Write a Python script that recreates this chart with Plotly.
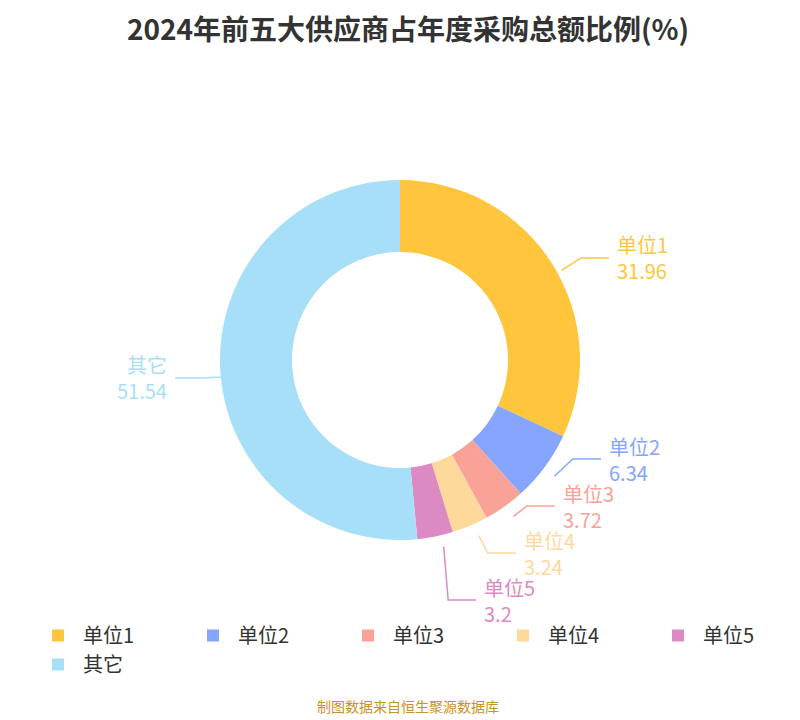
import math
import plotly.graph_objects as go

labels = ["单位1", "单位2", "单位3", "单位4", "单位5", "其它"]
values = [31.96, 6.34, 3.72, 3.24, 3.2, 51.54]
value_text = ["31.96", "6.34", "3.72", "3.24", "3.2", "51.54"]
colors = ["#FFC53D", "#85A5FF", "#FAA298", "#FFD99B", "#DC8AC4", "#A8DFF8"]

W, H = 800, 720
CX, CY, R = 400, 360, 180
FONT = "Noto Sans CJK SC"
DX, DY = -8, -8  # correct plotly's pie placement

fig = go.Figure(go.Pie(
    labels=labels, values=values, hole=0.6, sort=False, direction="clockwise",
    rotation=0, marker=dict(colors=colors), textinfo="none", hoverinfo="label+value",
    domain=dict(x=[(CX - R + DX) / W, (CX + R + DX) / W],
                y=[1 - (CY + R + DY) / H, 1 - (CY - R + DY) / H]),
))

def px(x): return x / W
def py(y): return 1 - y / H

total = sum(values)
cum = 0
items = []
for i, v in enumerate(values):
    a = math.radians((cum + v / 2) / total * 360)
    cum += v
    sx, sy = CX + (R + 2) * math.sin(a), CY - (R + 2) * math.cos(a)
    ex, ey = CX + 205 * math.sin(a), CY - 205 * math.cos(a)
    items.append(dict(i=i, right=math.sin(a) >= 0, sx=sx, sy=sy, ex=ex, ey=ey))

GAP, YMAX = 47, CY + 232
for side in (True, False):
    grp = sorted([it for it in items if it["right"] == side], key=lambda d: d["ey"])
    for k in range(1, len(grp)):
        grp[k]["ey"] = max(grp[k]["ey"], grp[k - 1]["ey"] + GAP)
    if grp and grp[-1]["ey"] > YMAX:
        grp[-1]["ey"] = YMAX
        for k in range(len(grp) - 2, -1, -1):
            grp[k]["ey"] = min(grp[k]["ey"], grp[k + 1]["ey"] - GAP)

shapes, anns = [], []
for it in items:
    c = colors[it["i"]]
    d = 1 if it["right"] else -1
    hx = it["ex"] + d * 28
    shapes.append(dict(type="path", xref="paper", yref="paper",
                       path=f"M {px(it['sx'])} {py(it['sy'])} L {px(it['ex'])} {py(it['ey'])} L {px(hx)} {py(it['ey'])}",
                       line=dict(color=c, width=1.5)))
    anns.append(dict(xref="paper", yref="paper", x=px(hx + d * 6), y=py(it["ey"]),
                     xanchor="left" if it["right"] else "right", yanchor="middle",
                     text=f"{labels[it['i']]}<br>{value_text[it['i']]}", showarrow=False,
                     align="left" if it["right"] else "right",
                     font=dict(size=20, color=c, family=FONT)))

anns.append(dict(xref="paper", yref="paper", x=0.5, y=py(710), yanchor="bottom",
                 text="制图数据来自恒生聚源数据库", showarrow=False,
                 font=dict(size=14, color="#C8922A", family=FONT)))

fig.update_layout(
    width=W, height=H, margin=dict(l=0, r=0, t=0, b=0),
    paper_bgcolor="white", plot_bgcolor="white",
    title=dict(text="<b>2024年前五大供应商占年度采购总额比例(%)</b>", x=0.5, y=py(22), yanchor="middle",
               font=dict(size=28, color="#333333", family=FONT)),
    font=dict(family=FONT),
    legend=dict(orientation="h", x=0.06, y=py(608), yanchor="top", xanchor="left",
                font=dict(size=20, color="#333333", family=FONT), itemwidth=40,
                tracegroupgap=0, entrywidth=100),
    shapes=shapes, annotations=anns,
)
fig.write_html("out.html")
